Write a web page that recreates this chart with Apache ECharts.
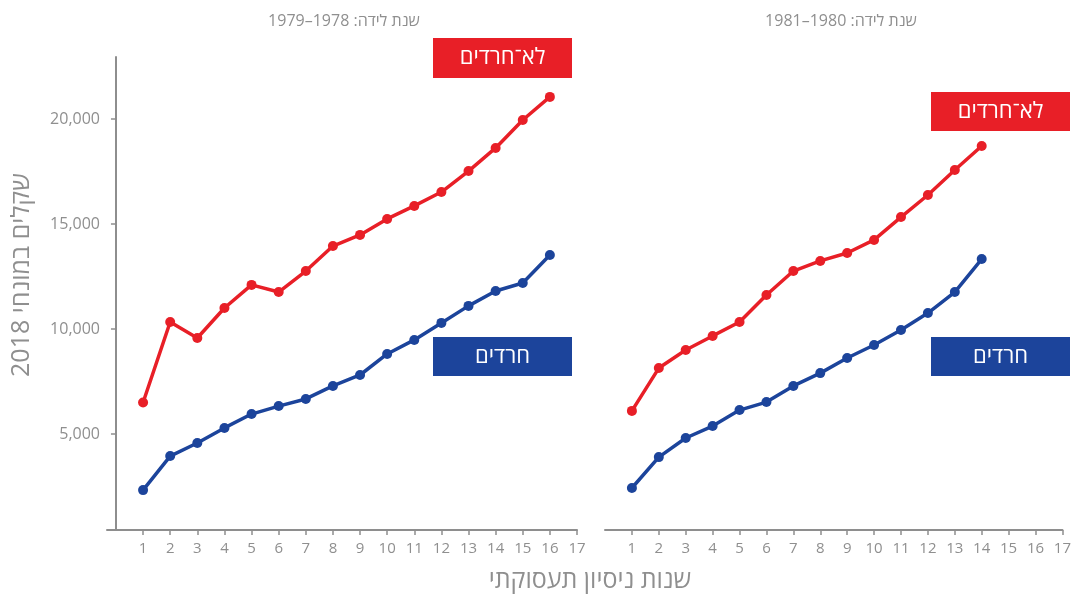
<!DOCTYPE html>
<html><head><meta charset="utf-8">
<script src="https://cdn.jsdelivr.net/npm/echarts@6/dist/echarts.min.js"></script>
<style>html,body{margin:0;padding:0;background:#fff}#c{width:1074px;height:594px}</style>
</head><body><div id="c"></div>
<script>
const xTicks = [1,2,3,4,5,6,7,8,9,10,11,12,13,14,15,16,17];
const yTicks = [5000,10000,15000,20000];
const years1 = [1,2,3,4,5,6,7,8,9,10,11,12,13,14,15,16];
const nonHaredi1 = [6500,10330,9570,11000,12100,11760,12760,13950,14480,15240,15860,16520,17520,18620,19950,21050];
const haredi1 = [2330,3950,4570,5290,5950,6330,6670,7290,7810,8810,9480,10290,11100,11810,12190,13520];
const years2 = [1,2,3,4,5,6,7,8,9,10,11,12,13,14];
const nonHaredi2 = [6100,8140,9000,9670,10330,11620,12760,13240,13620,14240,15330,16380,17570,18710];
const haredi2 = [2430,3900,4810,5380,6140,6520,7290,7900,8620,9240,9950,10760,11760,13330];
const title1 = '1979\u20131978 :שנת לידה';
const title2 = '1981\u20131980 :שנת לידה';
const yName = '2018 שקלים במונחי';
const xName = 'שנות ניסיון תעסוקתי';
const labelNonHaredi = 'לא־חרדים';
const labelHaredi = 'חרדים';

const RED = '#e81f27', BLUE = '#1c449b', GREY = '#8e8e8e', TXT = '#8f8f8f';
const FONT = '"Open Sans", "DejaVu Sans", sans-serif';
const zip = (xs, ys) => xs.map((x, i) => [x, ys[i]]);

function xAxisFor(gi, min) {
  return {
    type: 'value', gridIndex: gi, min: min, max: 17,
    splitLine: {show: false},
    axisLine: {show: true, onZero: false, lineStyle: {color: GREY, width: 2}},
    axisTick: {show: true, length: 5, customValues: xTicks, lineStyle: {color: GREY, width: 1.5}},
    axisLabel: {customValues: xTicks, color: TXT, fontSize: 15, fontFamily: FONT, margin: 11}
  };
}
function yAxisFor(gi, show) {
  return {
    type: 'value', gridIndex: gi, min: 430, max: 22950,
    splitLine: {show: false},
    axisLine: {show: show, onZero: true, lineStyle: {color: GREY, width: 2}},
    axisTick: {show: show, length: 5, customValues: yTicks, lineStyle: {color: GREY, width: 1.5}},
    axisLabel: {show: show, customValues: yTicks, color: TXT, fontSize: 16, fontFamily: FONT, margin: 7,
      formatter: v => v.toLocaleString('en-US')}
  };
}
function line(data, color, xi) {
  return {
    type: 'line', xAxisIndex: xi, yAxisIndex: xi, data: data,
    symbol: 'circle', symbolSize: 10, showSymbol: true,
    lineStyle: {color: color, width: 3.5}, itemStyle: {color: color},
    animation: false, z: 3
  };
}
function box(x, y, w, h, color, text) {
  return {
    type: 'group', left: x, top: y,
    children: [
      {type: 'rect', shape: {x: 0, y: 0, width: w, height: h}, style: {fill: color}},
      {type: 'text', x: w / 2, y: h / 2, style: {text: text, fill: '#fff', font: '22px ' + FONT, align: 'center', verticalAlign: 'middle'}}
    ]
  };
}

const chart = echarts.init(document.getElementById('c'), null, {renderer: 'canvas'});
chart.setOption({
  animation: false,
  backgroundColor: '#fff',
  title: [
    {text: title1, left: 339, top: 8, textAlign: 'center', textStyle: {color: TXT, fontSize: 16, fontWeight: 'normal', fontFamily: FONT}},
    {text: title2, left: 836, top: 8, textAlign: 'center', textStyle: {color: TXT, fontSize: 16, fontWeight: 'normal', fontFamily: FONT}}
  ],
  grid: [
    {left: 107, top: 57, width: 470, height: 473, containLabel: false},
    {left: 605, top: 57, width: 461, height: 473, containLabel: false}
  ],
  xAxis: [xAxisFor(0, -0.33), xAxisFor(1, 0)],
  yAxis: [yAxisFor(0, true), yAxisFor(1, false)],
  series: [
    line(zip(years1, nonHaredi1), RED, 0),
    line(zip(years1, haredi1), BLUE, 0),
    line(zip(years2, nonHaredi2), RED, 1),
    line(zip(years2, haredi2), BLUE, 1)
  ],
  graphic: [
    box(433, 38, 139, 40, RED, labelNonHaredi),
    box(433, 337, 139, 39, BLUE, labelHaredi),
    box(931, 92, 139, 39, RED, labelNonHaredi),
    box(931, 337, 139, 39, BLUE, labelHaredi),
    {type: 'text', x: 22, y: 275, rotation: Math.PI / 2,
      style: {text: yName, fill: TXT, font: '25px ' + FONT, align: 'center', verticalAlign: 'middle'}},
    {type: 'text', x: 590, y: 581,
      style: {text: xName, fill: TXT, font: '25px ' + FONT, align: 'center', verticalAlign: 'middle'}}
  ]
});
</script></body></html>
